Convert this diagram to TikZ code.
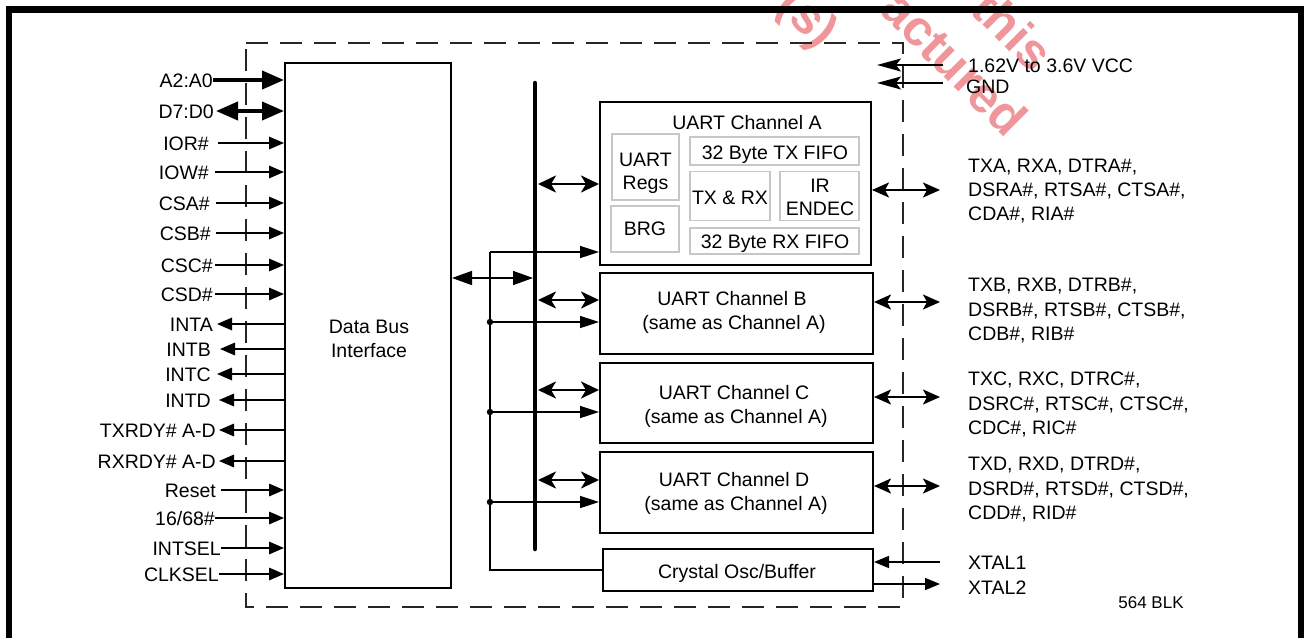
\documentclass[tikz,border=0pt]{standalone}
\usepackage{fontspec}
\setmainfont{Liberation Sans}
\usetikzlibrary{arrows.meta}
\definecolor{wmred}{RGB}{240,150,155}
\newcommand\dsz{\fontsize{19.5}{23}\selectfont}
\begin{document}
\begin{tikzpicture}[x=1pt,y=-1pt,
 txt/.style={font=\dsz, inner sep=0pt, text height=14pt, text depth=0pt},
 blk/.style={draw, line width=2pt, inner sep=0pt},
 subblk/.style={draw=black!22, line width=1.6pt, inner sep=0pt},
 sigline/.style={line width=1.6pt},
 sigin/.style={sigline, -{Triangle[length=15pt,width=12.5pt]}},
 sigout/.style={sigline, {Triangle[length=15pt,width=12.5pt]}-},
 fatarr/.style={line width=4pt, -{Triangle[length=22pt,width=18pt]}},
 fatdarr/.style={line width=4pt, {Triangle[length=22pt,width=18pt]}-{Triangle[length=22pt,width=18pt]}},
 ckarr/.style={sigline, -{Triangle[length=19pt,width=12pt]}},
 busdarr/.style={sigline, {Triangle[length=20pt,width=14pt]}-{Triangle[length=20pt,width=14pt]}},
 chdarr/.style={line width=2.6pt, {Stealth[length=18pt,width=17pt,inset=5pt]}-{Stealth[length=18pt,width=17pt,inset=5pt]}},
 iodarr/.style={line width=2.2pt, {Stealth[length=17pt,width=15pt,inset=4pt]}-{Stealth[length=17pt,width=15pt,inset=4pt]}},
 pwrarr/.style={sigline, -{Stealth[length=24pt,width=13pt,inset=5pt]}},
 xtarr/.style={sigline, -{Triangle[length=15pt,width=12pt]}},
 wm/.style={font=\fontsize{50}{50}\bfseries\selectfont, text=wmred, inner sep=0pt, rotate=-45},
]
\useasboundingbox (0,0) rectangle (1306,637);
\clip (0,0) rectangle (1306,637);
% watermark fragments (drawn beneath)
\node[wm] (wm1) at (806,20) {(s)};
\node[wm] (wm2) at (955,63) {actured};
\node[wm] (wm3) at (1013,30) {this};
% outer frame
\draw[line width=6.5pt, line join=miter] (9,700) -- (9,9.7) -- (1301,9.7) -- (1301,700);
% dashed chip outline
\draw[black!85, line width=1.8pt, dash pattern=on 22pt off 12pt] (246,43) -- (903,43) -- (903,607) -- (246,607) -- cycle;

% data bus interface
\node[blk, minimum width=166pt, minimum height=525pt] (dbi) at (368,325.5) {};
\node[txt] (dbi1) at (369,326) {Data Bus};
\node[txt] (dbi2) at (369,350) {Interface};

% left signals
\node[txt, anchor=east] (aa) at (213,80) {A2:A0};
\node[txt, anchor=east] (dd) at (214,111) {D7:D0};
\draw[fatarr] (aa.east) -- (aa.east -| dbi.west);
\draw[fatdarr] ([xshift=2pt]dd.east) -- (dd.east -| dbi.west);
\foreach \nm/\tx/\y/\ex/\gap/\st in {
 ior/IOR\#/143/209/9/sigin,
 iow/IOW\#/172/209/6/sigin,
 csa/CSA\#/203/210/6/sigin,
 csb/CSB\#/233/211/5/sigin,
 csc/CSC\#/265/213/2/sigin,
 csd/CSD\#/294/213/2/sigin,
 inta/INTA/324/213/4/sigout,
 intb/INTB/349/211/9/sigout,
 intc/INTC/374/211/6/sigout,
 intd/INTD/400/211/8/sigout,
 txr/TXRDY\# A-D/430/216/3/sigout,
 rxr/RXRDY\# A-D/461/216/3/sigout,
 rst/Reset/490/216/5/sigin,
 m68/{16/68\#}/518/215/0/sigin,
 isel/INTSEL/548/221/0/sigin,
 csel/CLKSEL/574/219/0/sigin}
{
 \node[txt, anchor=east] (\nm) at (\ex,\y) {\tx};
 \draw[\st] ([xshift=\gap pt]\nm.east) -- (\nm.east -| dbi.west);
}

% internal bus
\coordinate (busT) at (535,83);
\coordinate (busB) at (535,549);
\coordinate (busM) at (533,278);
\draw[line width=4.5pt, line cap=round] (busT) -- (busB);
\draw[busdarr] (dbi.east |- busM) -- (busM);

% UART channel A
\node[blk, minimum width=271pt, minimum height=163pt] (uA) at (735.5,183.5) {};
\node[txt] (uAt) at (747,122) {UART Channel A};
\node[subblk, minimum width=67pt, minimum height=66pt] (regs) at (645.5,167) {};
\node[txt] (regs1) at (645.5,159) {UART};
\node[txt] (regs2) at (645.5,182) {Regs};
\node[subblk, minimum width=68pt, minimum height=46pt] (brg) at (645,229) {};
\node[txt] (brgt) at (645,228) {BRG};
\node[subblk, minimum width=169pt, minimum height=28pt] (txf) at (774.5,151) {};
\node[txt] (txft) at (775,152) {32 Byte TX FIFO};
\node[subblk, minimum width=80pt, minimum height=49pt] (txrx) at (730,196) {};
\node[txt] (txrxt) at (730,197) {TX \& RX};
\node[subblk, minimum width=79pt, minimum height=49pt] (ir) at (819.5,196) {};
\node[txt] (ir1) at (820,185) {IR};
\node[txt] (ir2) at (820,208) {ENDEC};
\node[subblk, minimum width=169pt, minimum height=26pt] (rxf) at (774.5,241) {};
\node[txt] (rxft) at (775,241) {32 Byte RX FIFO};

% UART channels B, C, D
\node[blk, minimum width=273pt, minimum height=81pt] (uB) at (736.5,313.5) {};
\node[txt] (uB1) at (732,298) {UART Channel B};
\node[txt] (uB2) at (734,322) {(same as Channel A)};
\node[blk, minimum width=273pt, minimum height=80pt] (uC) at (736.5,403) {};
\node[txt] (uC1) at (734,392) {UART Channel C};
\node[txt] (uC2) at (736,416) {(same as Channel A)};
\node[blk, minimum width=273pt, minimum height=81pt] (uD) at (736.5,492.5) {};
\node[txt] (uD1) at (734,479) {UART Channel D};
\node[txt] (uD2) at (736,503) {(same as Channel A)};
% crystal
\node[blk, minimum width=270pt, minimum height=42pt] (xo) at (738,570) {};
\node[txt] (xot) at (737,571) {Crystal Osc/Buffer};

% bus to channels
\foreach \u/\y in {uA/184, uB/300, uC/390, uD/480}
 \draw[chdarr] ([xshift=3pt]busT |- {0,\y}) -- (\u.west |- {0,\y});

% clock distribution
\coordinate (ckA) at (490,252);
\coordinate (ckB) at (490,322);
\coordinate (ckC) at (490,412);
\coordinate (ckD) at (490,502);
\coordinate (ckX) at (490,570);
\draw[ckarr] (ckA) -- (ckA -| uA.west);
\draw[sigline] (ckA) -- (ckX) -- (ckX -| xo.west);
\foreach \c/\u in {ckB/uB, ckC/uC, ckD/uD}{
 \draw[ckarr] (\c) -- (\c -| \u.west);
 \fill (\c) circle (3.2pt);
}

% right side I/O
\node[txt, anchor=west] (vcc) at (968,65) {1.62V to 3.6V VCC};
\node[txt, anchor=west] (gnd) at (966,86) {GND};
\coordinate (vccE) at (943,65);
\coordinate (gndE) at (943,83);
\coordinate (vccT) at (877,65);
\draw[pwrarr] (vccE) -- (vccT);
\draw[pwrarr] (gndE) -- (vccT |- gndE);

\foreach \u/\ay/\la/\lb/\lc/\ya/\yb/\yc/\nm in {
 uA/190/{TXA, RXA, DTRA\#,}/{DSRA\#, RTSA\#, CTSA\#,}/{CDA\#, RIA\#}/165/189/213/a,
 uB/302/{TXB, RXB, DTRB\#,}/{DSRB\#, RTSB\#, CTSB\#,}/{CDB\#, RIB\#}/284/309/333/b,
 uC/397/{TXC, RXC, DTRC\#,}/{DSRC\#, RTSC\#, CTSC\#,}/{CDC\#, RIC\#}/378/403/427/c,
 uD/486/{TXD, RXD, DTRD\#,}/{DSRD\#, RTSD\#, CTSD\#,}/{CDD\#, RID\#}/463/488/512/d}
{
 \coordinate (io\nm) at (940,\ay);
 \draw[iodarr] (\u.east |- io\nm) -- (io\nm);
 \node[txt, anchor=west] (t1\nm) at (968,\ya) {\la};
 \node[txt, anchor=west] (t2\nm) at (968,\yb) {\lb};
 \node[txt, anchor=west] (t3\nm) at (968,\yc) {\lc};
}

\node[txt, anchor=west] (x1) at (968,562) {XTAL1};
\node[txt, anchor=west] (x2) at (968,587) {XTAL2};
\coordinate (x1E) at (940,562);
\coordinate (x2E) at (940,584);
\draw[xtarr] (x1E) -- (xo.east |- x1E);
\draw[xtarr] (xo.east |- x2E) -- (x2E);

\node[txt, font=\fontsize{17}{20}\selectfont, text height=12pt] (blk) at (1151,602) {564 BLK};
\end{tikzpicture}
\end{document}
